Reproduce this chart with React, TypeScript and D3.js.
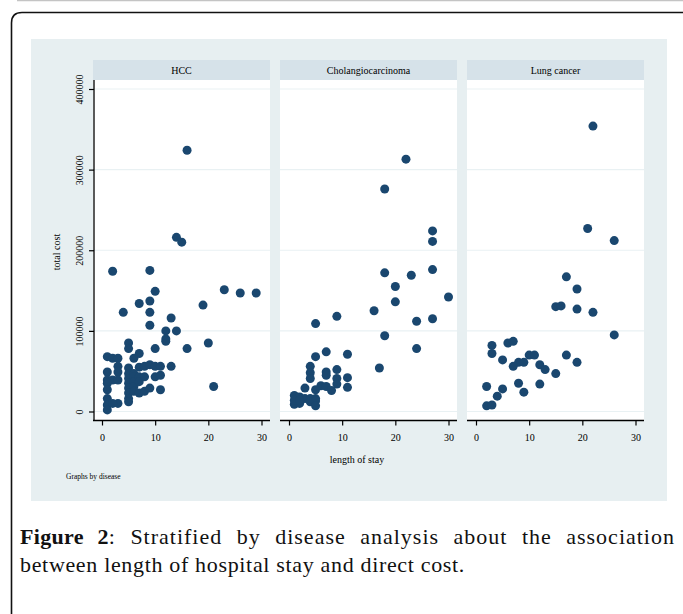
import React, { useEffect, useRef } from 'react';
import * as d3 from 'd3';

// facet names
const panelNames = ['HCC', 'Cholangiocarcinoma', 'Lung cancer'];

// HCC: length of stay (days) / total cost
const hccStay = [16, 14, 15, 2, 9, 10, 23, 26, 29, 19, 9, 7, 4, 9, 13, 9, 12, 14, 12, 12, 16, 20, 10, 21,
    5, 5, 7, 6, 1, 2, 3, 1, 3, 3, 1, 2, 3, 1, 1, 1, 1, 1, 3, 2,
    5, 5, 5, 5, 5, 5, 5, 5, 6, 6, 6, 6, 6, 7, 7, 7, 7, 8, 8, 8, 9, 9, 10, 10, 11, 11, 11, 13];
const hccCost = [324000, 216000, 210000, 174000, 175000, 149000, 151000, 147000, 147000, 132000, 137000, 134000, 123000, 123000, 116000, 107000, 100000, 100000, 90000, 87000, 78000, 85000, 78000, 31000,
    85000, 78000, 72000, 66000, 68000, 66000, 66000, 49000, 56000, 49000, 39000, 39000, 39000, 35000, 27000, 16000, 8000, 2000, 10000, 10000,
    54000, 47000, 41000, 35000, 29000, 23000, 16000, 12000, 47000, 43000, 37000, 31000, 25000, 55000, 43000, 37000, 23000, 56000, 43000, 25000, 58000, 29000, 56000, 43000, 56000, 45000, 27000, 56000];

// Cholangiocarcinoma
const choStay = [22, 18, 27, 27, 27, 18, 23, 20, 30, 20, 16, 9, 5, 24, 27, 18, 24, 11, 7, 5, 17,
    4, 4, 4, 7, 7, 9, 9, 9, 11, 11, 6, 7, 5, 8, 3, 1, 2, 3, 4, 5, 1, 2, 4, 5, 5, 1, 2];
const choCost = [313000, 276000, 224000, 211000, 176000, 172000, 169000, 155000, 142000, 136000, 125000, 118000, 109000, 112000, 115000, 94000, 78000, 71000, 74000, 68000, 54000,
    56000, 48000, 41000, 49000, 45000, 52000, 41000, 34000, 42000, 30000, 32000, 31000, 27000, 26000, 29000, 20000, 18000, 16000, 16000, 16000, 9000, 10000, 12000, 13000, 7000, 14000, 14000];

// Lung cancer
const lungStay = [22, 21, 26, 17, 19, 15, 16, 19, 22, 26, 6, 7, 3, 3, 5, 10, 11, 17, 8, 9, 7, 12, 13, 19, 15,
    2, 8, 12, 5, 9, 4, 2, 3];
const lungCost = [354000, 227000, 212000, 167000, 152000, 130000, 131000, 127000, 123000, 95000, 85000, 87000, 82000, 72000, 64000, 70000, 70000, 70000, 61000, 61000, 56000, 58000, 52000, 61000, 47000,
    31000, 35000, 34000, 28000, 24000, 19000, 7000, 8000];

const yTicks = [0, 100000, 200000, 300000, 400000];
const xTicks = [0, 10, 20, 30];

const serif = '"Liberation Serif", "Times New Roman", serif';

export default function App() {
    const ref = useRef<SVGSVGElement>(null);

    useEffect(() => {
        const svg = d3.select(ref.current);
        svg.selectAll('*').remove();

        // page frame
        svg.append('line')
            .attr('x1', 17).attr('x2', 683).attr('y1', 0.5).attr('y2', 0.5)
            .attr('stroke', '#c4c4c4').attr('stroke-width', 1.5);
        svg.append('path')
            .attr('d', 'M11.5,614 L11.5,23 Q11.5,12.5 22,12.5 L683,12.5')
            .attr('fill', 'none').attr('stroke', '#111').attr('stroke-width', 1.6);

        // graph region
        svg.append('rect')
            .attr('x', 31).attr('y', 39).attr('width', 636).attr('height', 462)
            .attr('fill', '#e7eff1');

        const panelLeft = [93, 280, 467];
        const panelW = 177;
        const top = 80, bottom = 420.5;
        const data = [
            { stay: hccStay, cost: hccCost },
            { stay: choStay, cost: choCost },
            { stay: lungStay, cost: lungCost },
        ];

        const y = d3.scaleLinear().domain([0, 400000]).range([411.5, 89]);

        panelNames.forEach((name, i) => {
            const left = panelLeft[i];
            const x = d3.scaleLinear().domain([0, 30]).range([left + 9, left + 168.5]);
            const g = svg.append('g');

            // strip
            g.append('rect')
                .attr('x', left).attr('y', 60).attr('width', panelW).attr('height', 20)
                .attr('fill', '#d6e2e9');
            g.append('text')
                .attr('x', left + panelW / 2).attr('y', 73.5)
                .attr('text-anchor', 'middle')
                .attr('font-family', serif).attr('font-size', 10)
                .text(name);

            // plot area
            g.append('rect')
                .attr('x', left).attr('y', top).attr('width', panelW).attr('height', bottom - top)
                .attr('fill', '#ffffff');

            // grid lines
            g.selectAll('.grid')
                .data(yTicks)
                .enter()
                .append('line')
                .attr('x1', left).attr('x2', left + panelW)
                .attr('y1', d => y(d)).attr('y2', d => y(d))
                .attr('stroke', '#e9f1f3').attr('stroke-width', 1.2);

            // points
            const pts = data[i].stay.map((s, k) => ({ s, c: data[i].cost[k] }));
            g.selectAll('.dot')
                .data(pts)
                .enter()
                .append('circle')
                .attr('cx', d => x(d.s))
                .attr('cy', d => y(d.c))
                .attr('r', 4.5)
                .attr('fill', '#1a476f');

            // x axis
            const xa = g.append('g')
                .attr('transform', 'translate(0,' + bottom + ')')
                .call(d3.axisBottom(x).tickValues(xTicks).tickSize(5).tickPadding(8).tickSizeOuter(0));
            xa.attr('font-family', serif);
            xa.select('.domain')
                .attr('d', 'M' + left + ',0H' + (left + panelW))
                .attr('stroke', '#000').attr('stroke-width', 1.3);
            xa.selectAll('line').attr('stroke', '#000').attr('stroke-width', 1.2);
            xa.selectAll('text')
                .attr('font-family', serif).attr('font-size', 10).attr('fill', '#000');

            // y axis only on first panel
            if (i === 0) {
                const ya = g.append('g')
                    .attr('transform', 'translate(' + (left + 1) + ',0)')
                    .call(d3.axisLeft(y).tickValues(yTicks).tickSize(5).tickFormat(d3.format('d')).tickSizeOuter(0));
                ya.attr('font-family', serif);
                ya.select('.domain')
                    .attr('d', 'M0,' + top + 'V' + bottom)
                    .attr('stroke', '#000').attr('stroke-width', 1.3);
                ya.selectAll('line').attr('stroke', '#000').attr('stroke-width', 1.2);
                ya.selectAll('text')
                    .attr('font-family', serif).attr('font-size', 10).attr('fill', '#000')
                    .attr('transform', 'rotate(-90)')
                    .attr('text-anchor', 'middle')
                    .attr('x', 0).attr('y', -11.5).attr('dy', 0);
            }
        });

        // axis titles
        svg.append('text')
            .attr('transform', 'translate(60,252) rotate(-90)')
            .attr('text-anchor', 'middle')
            .attr('font-family', serif).attr('font-size', 10)
            .text('total cost');
        svg.append('text')
            .attr('x', 357).attr('y', 463)
            .attr('text-anchor', 'middle')
            .attr('font-family', serif).attr('font-size', 10)
            .text('length of stay');
        svg.append('text')
            .attr('x', 66).attr('y', 479)
            .attr('font-family', serif).attr('font-size', 7.5)
            .text('Graphs by disease');

        // caption, first line justified
        const line1 = svg.append('text')
            .attr('x', 20).attr('y', 544)
            .attr('font-family', serif).attr('font-size', 22).attr('fill', '#111')
            .attr('letter-spacing', 1);
        line1.append('tspan').attr('font-weight', 'bold').attr('letter-spacing', 0.3).text('Figure 2');
        line1.append('tspan').text(': Stratified by disease analysis about the association');
        const w1 = (line1.node() as SVGTextElement).getComputedTextLength();
        line1.attr('word-spacing', (655 - w1) / 8);

        const line2 = svg.append('text')
            .attr('x', 20).attr('y', 572)
            .attr('font-family', serif).attr('font-size', 22).attr('fill', '#111')
            .text('between length of hospital stay and direct cost.');
        const w2 = (line2.node() as SVGTextElement).getComputedTextLength();
        line2.attr('letter-spacing', (445 - w2) / 48);
    }, []);

    return (
        <svg ref={ref} width={683} height={614}
             style={{ position: 'absolute', left: 0, top: 0, background: '#fff' }} />
    );
}
